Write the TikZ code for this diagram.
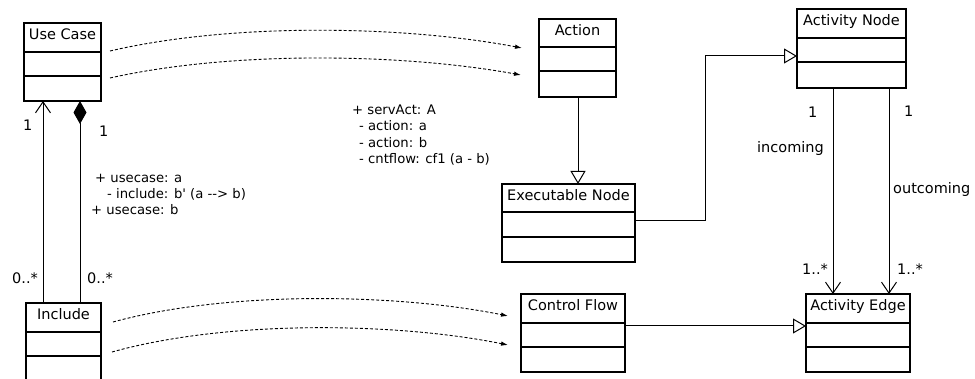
\documentclass[tikz,border=0pt]{standalone}
\usepackage{fontspec}
\setmainfont{DejaVu Sans}[Ligatures=TeXOff]
\usetikzlibrary{arrows.meta,calc,fit}
\tikzset{
  box/.style={draw, line width=1.1pt, inner sep=0pt, outer sep=0pt},
  divider/.style={line width=2pt},
  title/.style={anchor=base, inner sep=0pt, font=\fontsize{14.5}{17}\selectfont},
  lbl/.style={anchor=base west, inner sep=0pt, font=\fontsize{14.5}{17}\selectfont},
  note/.style={anchor=base west, inner sep=0pt, font=\fontsize{13.2}{15}\selectfont},
  conn/.style={line width=1pt},
  trace/.style={line width=0.9pt, dash pattern=on 3pt off 2pt, -{Latex[length=7pt,width=4.5pt]}},
  gen/.style={conn, -{Triangle[open,length=13pt,width=15pt]}},
  nav/.style={conn, -{Straight Barb[length=11pt,width=15pt]}},
}
% #1 name, #2 x1, #3 y1, #4 x2, #5 y2, #6 divider1, #7 divider2, #8 title
\newcommand\umlclassbox[8]{%
  \node[box, fit={(#2,#3) (#4,#5)}] (#1) {};
  \node[title] (#1-t) at ({(#2+#4)/2},{#3+17}) {#8};
  \draw[divider] (#2,#6) -- (#4,#6);
  \draw[divider] (#2,#7) -- (#4,#7);
}
\begin{document}
\begin{tikzpicture}[x={(1pt,0)}, y={(0,-1pt)}]
\useasboundingbox (0,0) rectangle (975,379);
\clip (0,0) rectangle (975,379);

% classes
\umlclassbox{uc}{24}{23}{101}{101}{52}{76}{Use Case}
\umlclassbox{inc}{26}{303}{101}{390}{332}{356}{Include}
\umlclassbox{act}{539}{19}{616}{97}{47}{71}{Action}
\umlclassbox{exe}{502}{184}{635}{262}{212}{237}{Executable Node}
\umlclassbox{cf}{521}{294}{625}{372}{323}{347}{Control Flow}
\umlclassbox{an}{797}{9}{906}{88}{38}{62}{Activity Node}
\umlclassbox{ae}{806}{294}{910}{372}{323}{347}{Activity Edge}

% Use Case -- Include
\draw[nav] (inc.north -| 43,0) -- (uc.south -| 43,0);
\draw[conn, {Diamond[length=23pt,width=13pt]}-] (uc.south -| 80,0) -- (inc.north -| 80,0);
\node[lbl] (m1) at (23,131) {1};
\node[lbl] (m2) at (99,137) {1};
\node[lbl] (m3) at (12,284) {0..*};
\node[lbl] (m4) at (87,284) {0..*};

\node[note] (n1) at (95,183) {+ usecase: a};
\node[note] (n2) at (107,199) {- include: b' (a --> b)};
\node[note] (n3) at (91,215) {+ usecase: b};

\node[note] (s1) at (352,115) {+ servAct: A};
\node[note] (s2) at (359,131) {- action: a};
\node[note] (s3) at (359,148) {- action: b};
\node[note] (s4) at (359,164) {- cntflow: cf1 (a - b)};

% generalizations
\draw[gen] (act.south -| 578,0) -- (exe.north -| 578,0);
\draw[gen] (exe.east |- 0,221) -- (705,221) -- (705,56) -- (an.west |- 0,56);
\draw[gen] (cf.east |- 0,326) -- (ae.west |- 0,326);

% Activity Node -- Activity Edge
\draw[nav] (an.south -| 833,0) -- (ae.north -| 833,0);
\draw[nav] (an.south -| 889,0) -- (ae.north -| 889,0);
\node[lbl] (a1) at (808,118) {1};
\node[lbl] (a2) at (904,117) {1};
\node[lbl] (a3) at (757,153) {incoming};
\node[lbl] (a4) at (893,194) {outcoming};
\node[lbl] (a5) at (802,275) {1..*};
\node[lbl] (a6) at (897,275) {1..*};

% trace (dashed) arrows
\coordinate (t1s) at (110,51);  \coordinate (t1e) at (522,48);
\coordinate (t2s) at (110,78);  \coordinate (t2e) at (521,75);
\coordinate (t3s) at (113,322); \coordinate (t3e) at (508,316);
\coordinate (t4s) at (112,352); \coordinate (t4e) at (508,345);
\draw[trace] (t1s) .. controls (230,23) and (400,25) .. (t1e);
\draw[trace] (t2s) .. controls (230,51) and (400,53) .. (t2e);
\draw[trace] (t3s) .. controls (230,290) and (400,294) .. (t3e);
\draw[trace] (t4s) .. controls (230,319) and (400,323) .. (t4e);
\end{tikzpicture}
\end{document}
